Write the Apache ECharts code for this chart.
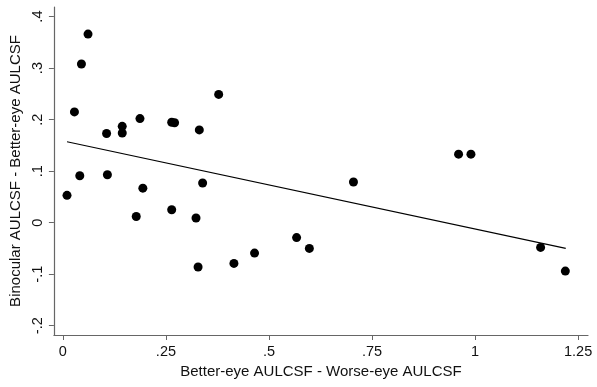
<!DOCTYPE html>
<html>
<head>
<meta charset="utf-8">
<script src="https://cdn.jsdelivr.net/npm/echarts@6/dist/echarts.min.js"></script>
<style>
  html, body { margin: 0; padding: 0; background: #fff; }
  #chart { width: 597px; height: 387px; }
</style>
</head>
<body>
<div id="chart"></div>
<script>
// better-eye minus worse-eye AULCSF (x) vs binocular minus better-eye AULCSF (y)
const diffEyes = [0.010, 0.028, 0.041, 0.045, 0.061, 0.106, 0.108, 0.144, 0.144, 0.178,
  0.187, 0.194, 0.264, 0.271, 0.264, 0.323, 0.328, 0.331, 0.339, 0.378,
  0.415, 0.465, 0.567, 0.598, 0.705, 0.960, 0.990, 1.159, 1.219];
const binocGain = [0.053, 0.215, 0.091, 0.308, 0.366, 0.173, 0.093, 0.187, 0.174, 0.012,
  0.202, 0.067, 0.195, 0.194, 0.025, 0.009, -0.086, 0.180, 0.077, 0.249,
  -0.079, -0.059, -0.029, -0.050, 0.079, 0.133, 0.133, -0.048, -0.094];
// fitted line end points
const fitX = [0.01, 1.22];
const fitY = [0.157, -0.050];

const xTicks = [0, 0.25, 0.5, 0.75, 1, 1.25];
const yTicks = [-0.2, -0.1, 0, 0.1, 0.2, 0.3, 0.4];

function stataLabel(v) {
  if (Math.abs(v) < 1e-9) return '0';
  let s = String(+v.toFixed(2));
  return s.replace(/^0\./, '.').replace(/^-0\./, '-.');
}

const chart = echarts.init(document.getElementById('chart'));
const font = '"Liberation Sans", Arial, Helvetica, sans-serif';
const axisColor = '#666';

chart.setOption({
  animation: false,
  grid: { left: 53, top: 7, right: 9, bottom: 52, containLabel: false },
  xAxis: {
    type: 'value',
    min: -0.0218,
    max: 1.274,
    name: 'Better-eye AULCSF - Worse-eye AULCSF',
    nameLocation: 'middle',
    nameGap: 26,
    nameTextStyle: { fontFamily: font, fontSize: 15, color: '#111' },
    axisLine: { show: true, onZero: false, lineStyle: { color: axisColor, width: 1.2 } },
    axisTick: { show: true, length: 5, customValues: xTicks, lineStyle: { color: axisColor } },
    axisLabel: {
      customValues: xTicks,
      formatter: stataLabel,
      margin: 9,
      fontFamily: font, fontSize: 14.5, color: '#111'
    },
    splitLine: { show: false }
  },
  yAxis: {
    type: 'value',
    min: -0.218,
    max: 0.4186,
    name: 'Binocular AULCSF - Better-eye AULCSF',
    nameLocation: 'middle',
    nameGap: 25,
    nameTextStyle: { fontFamily: font, fontSize: 15, color: '#111' },
    axisLine: { show: true, onZero: false, lineStyle: { color: axisColor, width: 1.2 } },
    axisTick: { show: true, length: 5, customValues: yTicks, lineStyle: { color: axisColor } },
    axisLabel: {
      customValues: yTicks,
      formatter: stataLabel,
      rotate: 90,
      margin: 8,
      fontFamily: font, fontSize: 14.5, color: '#111'
    },
    splitLine: { show: false }
  },
  series: [
    {
      type: 'scatter',
      symbol: 'circle',
      symbolSize: 9,
      itemStyle: { color: '#000', opacity: 1 },
      data: diffEyes.map((x, i) => [x, binocGain[i]])
    },
    {
      type: 'line',
      symbol: 'none',
      lineStyle: { color: '#000', width: 1.2 },
      data: fitX.map((x, i) => [x, fitY[i]])
    }
  ]
});
</script>
</body>
</html>
